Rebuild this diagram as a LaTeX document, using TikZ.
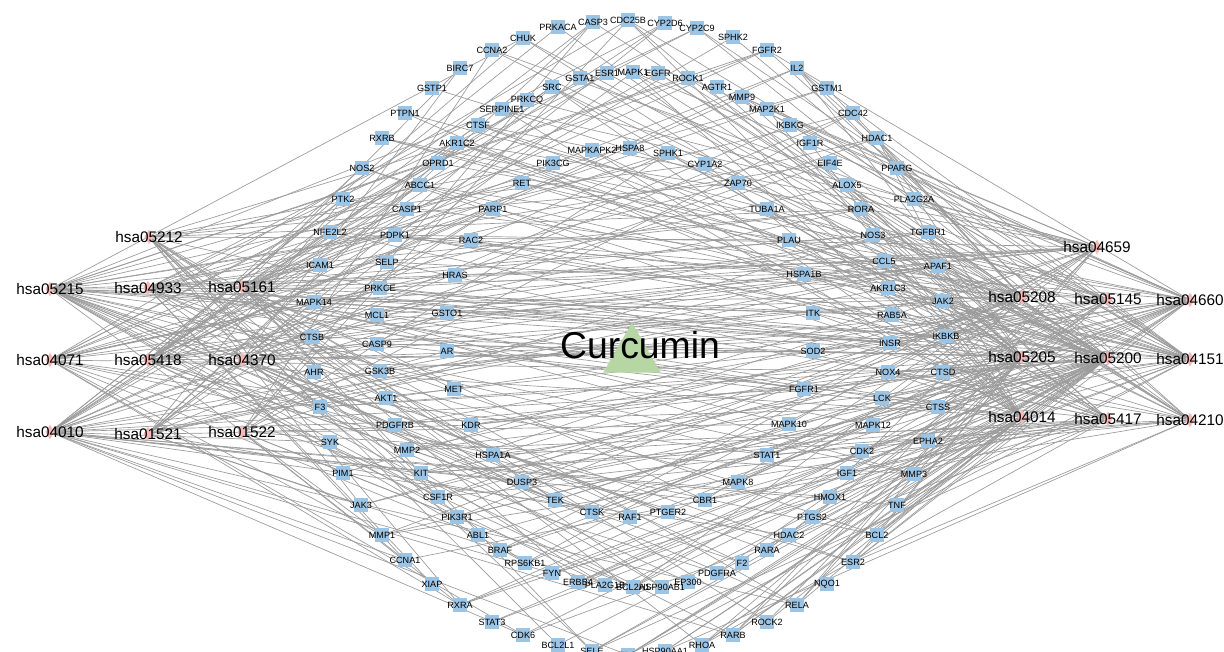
\documentclass[tikz,border=0pt]{standalone}
\usepackage{fontspec}
\setmainfont{Liberation Sans}
\usetikzlibrary{shapes.geometric}
\pgfdeclarelayer{bg}
\pgfsetlayers{bg,main}
\definecolor{gbl}{RGB}{156,196,228}
\definecolor{pk}{RGB}{247,184,184}
\definecolor{grn}{RGB}{182,214,163}
\definecolor{edg}{RGB}{155,155,155}
\def\genedata{CDC25B/628/20,CASP3/593/22,CYP2D6/665/23,PRKACA/558/27,CYP2C9/697/28,CHUK/523/38,SPHK2/733/37,CCNA2/492/50,FGFR2/767/50,BIRC7/460/68,IL2/797/68,GSTP1/432/88,GSTM1/827/88,PTPN1/405/113,CDC42/853/113,RXRB/382/138,HDAC1/877/138,NOS2/362/168,PPARG/897/168,PTK2/343/199,PLA2G2A/914/199,NFE2L2/330/232,TGFBR1/928/232,ICAM1/320/265,APAF1/938/266,MAPK14/314/302,JAK2/943/301,CTSB/312/337,IKBKB/946/336,AHR/314/372,CTSD/943/372,F3/320/407,CTSS/938/407,SYK/330/442,EPHA2/928/441,PIM1/343/473,MMP3/914/474,JAK3/361/505,TNF/897/505,MMP1/382/535,BCL2/877/535,CCNA1/405/560,ESR2/853/562,XIAP/432/584,NQO1/827/584,RXRA/460/605,RELA/797/605,STAT3/492/622,ROCK2/767/622,CDK6/523/635,RARB/733/635,BCL2L1/558/645,RHOA/702/645,SELE/592/651,PLG/628/655,HSP90AA1/665/651,ESR1/607/73,MAPK1/633/72,EGFR/658/73,GSTA1/580/78,ROCK1/688/78,SRC/552/87,AGTR1/717/87,PRKCQ/527/100,MMP9/742/97,SERPINE1/502/109,MAP2K1/767/109,CTSF/478/125,IKBKG/790/125,AKR1C2/457/143,IGF1R/810/143,OPRD1/438/163,EIF4E/830/163,ABCC1/420/185,ALOX5/847/185,CASP1/407/209,RORA/861/209,PDPK1/395/235,NOS3/873/235,SELP/387/262,CCL5/884/261,PRKCE/380/288,AKR1C3/888/288,MCL1/377/315,RAB5A/892/315,CASP9/377/344,INSR/890/343,GSK3B/380/371,NOX4/888/372,AKT1/386/398,LCK/882/398,PDGFRB/395/425,MAPK12/873/425,MMP2/407/450,CDK2/862/451,KIT/421/473,IGF1/847/473,CSF1R/438/497,HMOX1/830/497,PIK3R1/457/517,PTGS2/812/517,ABL1/478/535,HDAC2/789/535,BRAF/500/550,RARA/767/550,RPS6KB1/525/563,F2/742/563,FYN/552/573,PDGFRA/717/573,ERBB4/578/582,EP300/688/582,PLA2G1B/605/585,BCL2A1/633/587,HSP90AB1/662/587,HSPA8/630/148,MAPKAPK2/592/150,SPHK1/668/153,PIK3CG/553/163,CYP1A2/705/164,RET/522/183,ZAP70/738/183,PARP1/493/209,TUBA1A/767/209,RAC2/471/240,PLAU/789/240,HRAS/455/275,HSPA1B/804/274,GSTO1/447/313,ITK/813/313,AR/447/351,SOD2/813/351,MET/454/389,FGFR1/804/389,KDR/471/425,MAPK10/789/424,HSPA1A/493/455,STAT1/767/455,DUSP3/522/482,MAPK8/738/482,TEK/555/500,CBR1/705/500,CTSK/592/512,PTGER2/668/512,RAF1/630/517}
\def\pwdata{hsa05215/50/289/0.2,hsa04071/50/360/0.16,hsa04010/50/432/0.22,hsa05212/149/237/0.14,hsa04933/148/288/0.16,hsa05418/148/360/0.15,hsa01521/148/434/0.13,hsa05161/242/287/0.15,hsa04370/242/360/0.14,hsa01522/242/432/0.14,hsa04659/1097/247/0.14,hsa05208/1022/297/0.18,hsa05145/1108/299/0.14,hsa04660/1190/300/0.14,hsa05205/1022/357/0.2,hsa05200/1108/358/0.35,hsa04151/1190/359/0.22,hsa04014/1022/417/0.18,hsa05417/1108/419/0.18,hsa04210/1190/420/0.15}
\begin{document}
\begin{tikzpicture}[x=0.75pt,y=-0.75pt,
  gene/.style={rectangle,fill=gbl,minimum size=11pt,inner sep=0pt},
  glab/.style={inner sep=0pt,font=\fontsize{6.8}{8}\selectfont,text=black},
  pwnode/.style={diamond,fill=pk,minimum width=7pt,minimum height=11pt,inner sep=0pt},
  pwlab/.style={inner sep=0pt,font=\fontsize{11.5}{13}\selectfont,text=black},
  link/.style={draw=edg,line width=0.5pt}]
\useasboundingbox (0,0) rectangle (1224,651);
\begin{pgfonlayer}{bg}
\fill[white] (0,0) rectangle (1224,651);
\end{pgfonlayer}
% gene nodes
\foreach \n/\x/\y in \genedata {
  \node[gene] (\n) at (\x,\y) {};
}
% pathway nodes
\foreach \p/\x/\y/\q in \pwdata {
  \node[pwnode] (\p) at (\x,\y) {};
}
% Curcumin
\node[regular polygon,regular polygon sides=3,fill=grn,minimum size=50pt,inner sep=0pt] (cur) at (632,356) {};
\node[inner sep=0pt,font=\fontsize{28}{30}\selectfont] (curlab) at (640,345) {Curcumin};
% edges
\pgfmathsetseed{20231}
\begin{pgfonlayer}{bg}
\foreach \p/\px/\py/\q in \pwdata {
  \foreach \g/\gx/\gy in \genedata {
    \pgfmathtruncatemacro\ok{rnd<\q ? 1 : 0}
    \ifnum\ok=1 \draw[link] (\p.center) -- (\g.center);\fi
  }
}
\end{pgfonlayer}
% labels
\foreach \n/\x/\y in \genedata {
  \node[glab] at (\n) {\n};
}
\foreach \p/\x/\y/\q in \pwdata {
  \node[pwlab] at (\p) {\p};
}
\end{tikzpicture}
\end{document}
